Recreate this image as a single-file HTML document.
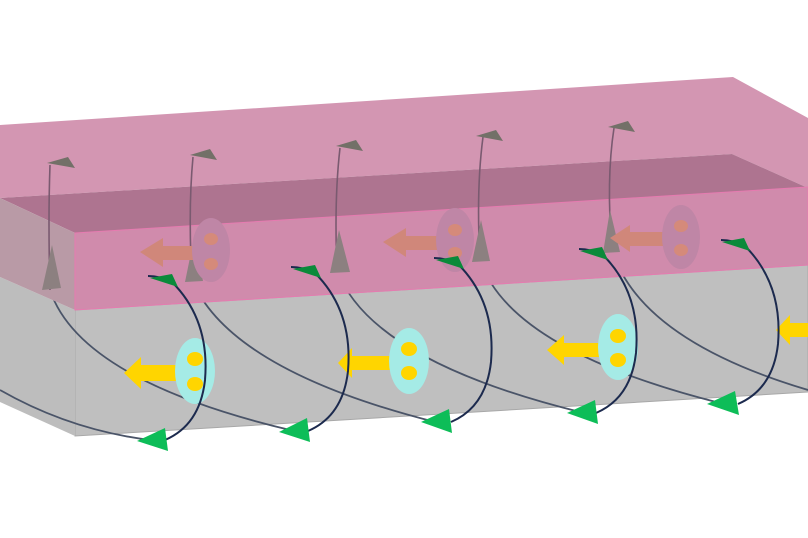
<!DOCTYPE html>
<html><head><style>body{margin:0;background:#fff}svg{display:block}</style></head><body>
<svg width="808" height="538" viewBox="0 0 808 538" xmlns="http://www.w3.org/2000/svg">
<!-- grey block -->
<polygon points="75,310 808,265 808,392 75,436" fill="#bfbfbf" stroke="#a8a8a8"/>
<polygon points="0,277 75,310 75,436 0,402" fill="#bdbdbd"/>
<!-- slate field lines -->
<g fill="none" stroke="#4a5468" stroke-width="1.8">
<path d="M0,390 Q70,430 150,440"/>
<path d="M50,290 Q80,380 290,430"/>
<path d="M192,280 Q230,370 435,422"/>
<path d="M337,270 Q370,360 580,412"/>
<path d="M480,260 Q510,350 720,403"/>
<path d="M612,250 Q640,340 808,390"/>
</g>
<!-- pink slab -->
<polygon points="0,125 733,77 808,118 808,188 732,154 0,198" fill="#d396b2"/>
<polygon points="0,198 732,154 808,188 75,233" fill="#ae7490"/>
<polygon points="0,198 75,233 75,310 0,277" fill="#b99aa6"/>
<polygon points="75,233 808,187 808,265 75,310" fill="#d08bac" stroke="#e67bb0" stroke-width="1"/>
<!-- grey upward arrows -->
<g fill="none" stroke="#7a5a70" stroke-width="1.6">
<path d="M50,290 Q48,220 50,165"/>
<path d="M192,280 Q188,210 193,157"/>
<path d="M337,270 Q334,200 340,148"/>
<path d="M480,260 Q476,190 483,137"/>
<path d="M612,250 Q606,180 614,128"/>
</g>
<g fill="#737068">
<polygon points="47,163 68,157 75,168"/>
<polygon points="190,155 210,149 217,160"/>
<polygon points="336,146 356,140 363,151"/>
<polygon points="476,136 496,130 503,141"/>
<polygon points="608,127 628,121 635,132"/>
</g>
<g fill="#8c8080">
<polygon points="52,245 42,290 61,288"/>
<polygon points="194,238 185,282 203,281"/>
<polygon points="339,230 330,273 350,272"/>
<polygon points="481,220 472,262 490,261"/>
<polygon points="610,210 603,253 620,252"/>
</g>
<!-- pink layer ellipses/arrows -->
<g fill="#d0877a">
<polygon points="140,252 163,238 163,246 200,246 200,260 163,260 163,267"/>
<polygon points="383,242 406,228 406,236 440,236 440,250 406,250 406,257"/>
<polygon points="610,238 630,225 630,232 665,232 665,246 630,246 630,252"/>
</g>
<g fill="#bf86a6">
<ellipse cx="211" cy="250" rx="19" ry="32"/>
<ellipse cx="455" cy="240" rx="19" ry="32"/>
<ellipse cx="681" cy="237" rx="19" ry="32"/>
</g>
<g fill="#d58a7a">
<ellipse cx="211" cy="239" rx="7" ry="6"/><ellipse cx="211" cy="264" rx="7" ry="6"/>
<ellipse cx="455" cy="230" rx="7" ry="6"/><ellipse cx="455" cy="253" rx="7" ry="6"/>
<ellipse cx="681" cy="226" rx="7" ry="6"/><ellipse cx="681" cy="250" rx="7" ry="6"/>
</g>
<!-- yellow arrows and cyan ellipses -->
<g fill="#ffd500">
<polygon points="124,373 141,357 141,365 185,365 185,381 141,381 141,389"/>
<polygon points="338,363 352,348 352,356 395,356 395,370 352,370 352,378"/>
<polygon points="547,350 564,335 564,343 605,343 605,357 564,357 564,365"/>
<polygon points="776,330 790,315 790,323 808,323 808,337 790,337 790,345"/>
</g>
<g fill="#a5ebe6">
<ellipse cx="195" cy="371" rx="20" ry="33"/>
<ellipse cx="409" cy="361" rx="20" ry="33"/>
<ellipse cx="618" cy="347" rx="20" ry="33"/>
</g>
<g fill="#ffd500">
<ellipse cx="195" cy="359" rx="8" ry="7"/><ellipse cx="195" cy="384" rx="8" ry="7"/>
<ellipse cx="409" cy="349" rx="8" ry="7"/><ellipse cx="409" cy="373" rx="8" ry="7"/>
<ellipse cx="618" cy="336" rx="8" ry="7"/><ellipse cx="618" cy="360" rx="8" ry="7"/>
</g>
<!-- navy arcs -->
<g fill="none" stroke="#1c2a4e" stroke-width="2">
<path d="M148,276 Q160,276 172,282 Q210,320 205,380 Q200,425 165,440"/>
<path d="M291,267 Q303,267 315,273 Q353,311 348,371 Q343,416 308,431"/>
<path d="M434,258 Q446,258 458,264 Q496,302 491,362 Q486,407 451,422"/>
<path d="M579,249 Q591,249 603,255 Q641,293 636,353 Q631,398 596,413"/>
<path d="M721,240 Q733,240 745,246 Q783,284 778,344 Q773,389 738,404"/>
</g>
<!-- green arrowheads -->
<g fill="#0a8a3a">
<polygon points="150,278 172,274 178,287"/>
<polygon points="293,269 315,265 321,278"/>
<polygon points="436,260 458,256 464,269"/>
<polygon points="580,251 602,247 608,260"/>
<polygon points="722,242 744,238 750,251"/>
</g>
<g fill="#0dbd58">
<polygon points="137,441 165,428 168,451"/>
<polygon points="279,432 307,418 310,442"/>
<polygon points="421,422 449,409 452,433"/>
<polygon points="567,413 595,400 598,424"/>
<polygon points="707,404 735,391 739,415"/>
</g>
</svg>
</body></html>
